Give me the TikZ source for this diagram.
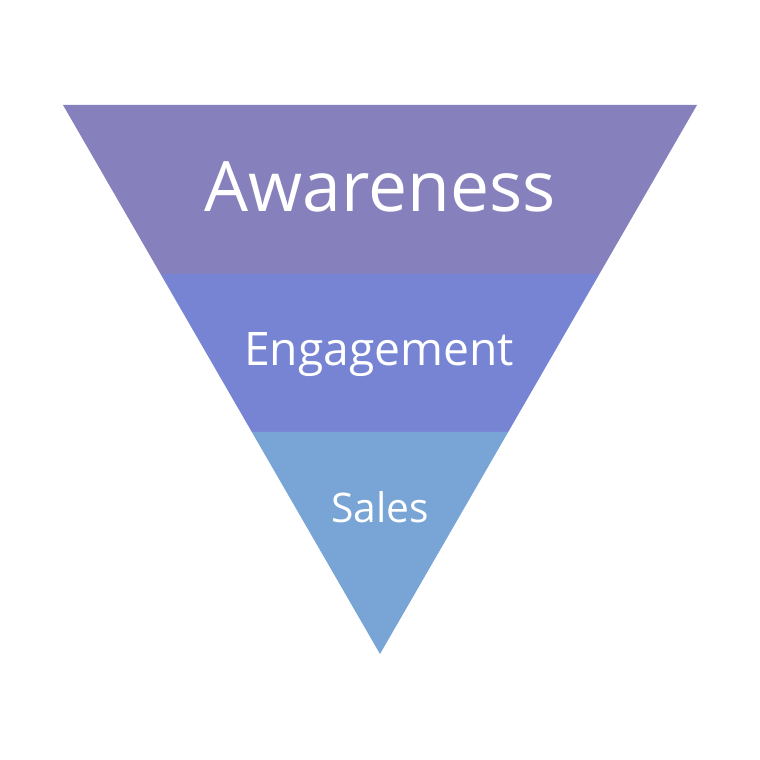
\documentclass[tikz,border=0pt]{standalone}
\usepackage{fontspec}
\setmainfont{Open Sans}
\usepackage{tikz}
\usetikzlibrary{calc}
\definecolor{topband}{HTML}{8680BC}
\definecolor{midband}{HTML}{7784D4}
\definecolor{lowband}{HTML}{78A5D6}

\begin{document}
\begin{tikzpicture}[x=0.02cm,y=0.02cm]
\useasboundingbox (0,0) rectangle (760,760);
\coordinate (TL) at (63,655); \coordinate (TR) at (697,655); \coordinate (V) at (380,106);
\coordinate (L1) at ($(TL)!0.3078!(V)$); \coordinate (R1) at ($(TR)!0.3078!(V)$);
\coordinate (L2) at ($(TL)!0.5956!(V)$); \coordinate (R2) at ($(TR)!0.5956!(V)$);
\fill[topband] (TL)--(TR)--(R1)--(L1)--cycle;
\fill[midband] (L1)--(R1)--(R2)--(L2)--cycle;
\fill[lowband] (L2)--(R2)--(V)--cycle;
\node[anchor=base,white,font=\fontsize{39.6}{40}\selectfont] (aw) at (380,548) {Awareness};
\node[anchor=base,white,font=\fontsize{26.3}{27}\selectfont] (en) at (379,394) {Engagement};
\node[anchor=base,white,font=\fontsize{23.2}{24}\selectfont] (sa) at (380,237) {Sales};
\end{tikzpicture}
\end{document}
